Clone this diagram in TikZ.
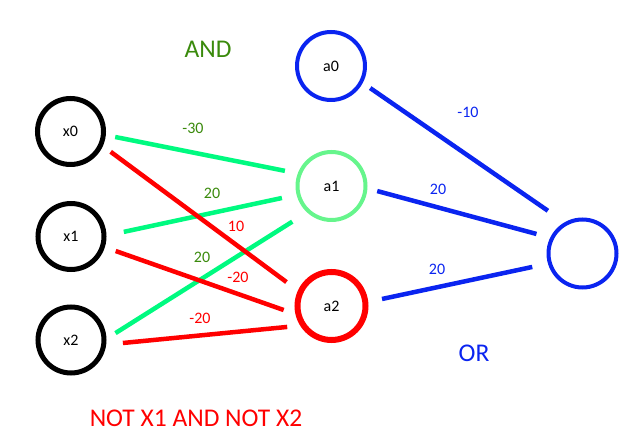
\documentclass[tikz,border=0pt]{standalone}
\usepackage{fontspec}
\setmainfont{Carlito}
\definecolor{wiregreen}{HTML}{00FA80}
\definecolor{unitgreen}{HTML}{66F58C}
\definecolor{textgreen}{HTML}{3A8A0C}
\definecolor{netblue}{HTML}{0A24F0}
\definecolor{netred}{HTML}{FF0000}

\begin{document}
\begin{tikzpicture}[x=1pt,y=1pt,
  unit/.style={circle,draw,line width=4pt,minimum size=68pt,inner sep=0pt,font=\fontsize{16}{19}\selectfont},
  wgt/.style={font=\fontsize{16}{19}\selectfont},
  big/.style={font=\fontsize{25.5}{30}\selectfont},
  gline/.style={draw=wiregreen,line width=4.5pt},
  rline/.style={draw=netred,line width=4.5pt},
  bline/.style={draw=netblue,line width=4.5pt}]
  \useasboundingbox (0,0) rectangle (632,439);

  % input layer
  \node[unit,line width=5pt,minimum size=66pt] (x0) at (70.5,307.5) {x0};
  \node[unit,line width=5pt,minimum size=66pt] (x1) at (71,202.5) {x1};
  \node[unit,line width=5pt,minimum size=66pt] (x2) at (71,99) {x2};

  % hidden layer
  \node[unit,draw=netblue] (a0) at (331,373) {a0};
  \node[unit,draw=unitgreen] (a1) at (331.5,253) {a1};
  \node[unit,draw=netred,line width=6pt] (a2) at (331.5,133) {a2};

  % output
  \node[unit,draw=netblue] (out) at (582.5,185.5) {};

  % AND unit
  \draw[gline] ([shift={(-7:45pt)}]x0.center) -- ([shift={(162:49pt)}]a1.center);
  \draw[gline] ([shift={(5:53pt)}]x1.center) -- ([shift={(193.6:51pt)}]a1.center);
  \draw[gline] ([shift={(8.8:45pt)}]x2.center) -- ([shift={(222.3:53pt)}]a1.center);

  % NOT x1 AND NOT x2 unit
  \draw[rline] ([shift={(-26.8:45pt)}]x0.center) -- ([shift={(152:51pt)}]a2.center);
  \draw[rline] ([shift={(-18:47pt)}]x1.center) -- ([shift={(184.8:48pt)}]a2.center);
  \draw[rline] ([shift={(-3.3:52pt)}]x2.center) -- ([shift={(205.3:49pt)}]a2.center);

  % OR unit
  \draw[bline] ([shift={(-29.4:45pt)}]a0.center) -- ([shift={(129:55pt)}]out.center);
  \draw[bline] ([shift={(-6.3:46pt)}]a1.center) -- ([shift={(157:50pt)}]out.center);
  \draw[bline] ([shift={(7.9:51pt)}]a2.center) -- ([shift={(195:52pt)}]out.center);

  % weights
  \node[wgt,text=textgreen] (w1) at (193,311) {-30};
  \node[wgt,text=textgreen] (w2) at (212,246) {20};
  \node[wgt,text=textgreen] (w3) at (202,182) {20};
  \node[wgt,text=netred] (w4) at (236,213) {10};
  \node[wgt,text=netred] (w5) at (238,162) {-20};
  \node[wgt,text=netred] (w6) at (200,121) {-20};
  \node[wgt,text=netblue] (w7) at (468,327) {-10};
  \node[wgt,text=netblue] (w8) at (438,250) {20};
  \node[wgt,text=netblue] (w9) at (437,170) {20};

  % captions
  \node[big,text=textgreen] (andlbl) at (208,390) {AND};
  \node[big,text=netblue] (orlbl) at (474,86) {OR};
  \node[big,text=netred] (notlbl) at (196,21) {NOT X1 AND NOT X2};
\end{tikzpicture}
\end{document}
